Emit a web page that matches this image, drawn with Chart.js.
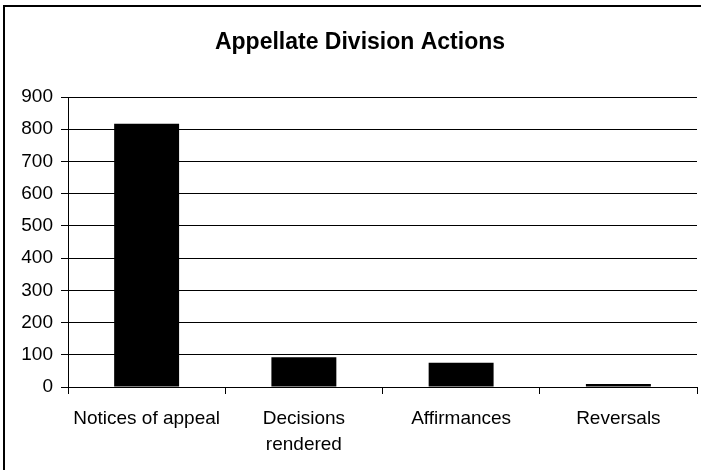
<!DOCTYPE html>
<html>
<head>
<meta charset="utf-8">
<script src="https://cdn.jsdelivr.net/npm/chart.js@4"></script>
<style>
  html, body { margin: 0; padding: 0; background: #fff; }
  #wrap { width: 701px; height: 470px; position: relative; }
</style>
</head>
<body>
<div id="wrap"><canvas id="actionsChart" width="701" height="470"></canvas></div>
<script>
var categories = [["Notices of appeal"], ["Decisions", "rendered"], ["Affirmances"], ["Reversals"]];
var actionCounts = [817, 92, 75, 9];
var yTicks = [0, 100, 200, 300, 400, 500, 600, 700, 800, 900];
var chartTitle = "Appellate Division Actions";

// frame + title drawn around the plot, like the spreadsheet chart box
var framePlugin = {
    id: "frame",
    beforeDraw: function (chart) {
        var c = chart.ctx;
        c.save();
        c.fillStyle = "#fff";
        c.fillRect(0, 0, chart.width, chart.height);
        c.strokeStyle = "#000";
        c.lineWidth = 2;
        c.strokeRect(4, 6, 720, 480);
        c.restore();
    },
    afterDraw: function (chart) {
        var c = chart.ctx;
        c.save();
        c.fillStyle = "#000";
        c.font = "bold 23px 'Liberation Sans', Arial, sans-serif";
        c.textAlign = "center";
        c.textBaseline = "middle";
        c.fillText(chartTitle, 360, 43);
        c.restore();
    }
};

document.addEventListener("DOMContentLoaded", function () {
    var ctx = document.getElementById("actionsChart").getContext("2d");
    var actionsChart = new Chart(ctx, {
        type: "bar",
        data: {
            labels: categories,
            datasets: [
                {
                    label: "Actions",
                    data: actionCounts,
                    backgroundColor: "#000",
                    borderWidth: 0,
                    categoryPercentage: 1,
                    barPercentage: 0.413,
                },
            ],
        },
        options: {
            responsive: false,
            animation: false,
            layout: { padding: { top: 97, left: 0, right: 4, bottom: 0 } },
            plugins: {
                legend: { display: false },
                tooltip: { enabled: false },
                title: { display: false },
            },
            scales: {
                x: {
                    afterFit: function (scale) { scale.height = 83; },
                    grid: {
                        offset: true,
                        drawOnChartArea: false,
                        drawTicks: true,
                        tickLength: 7,
                        color: "#000",
                    },
                    border: { color: "#000", width: 1 },
                    ticks: {
                        color: "#000",
                        padding: 12,
                        maxRotation: 0,
                        autoSkip: false,
                        font: { family: "'Liberation Sans', Arial, sans-serif", size: 19, lineHeight: 1.35 },
                    },
                },
                y: {
                    min: 0,
                    max: 900,
                    afterFit: function (scale) { scale.width = 68; },
                    afterBuildTicks: function (scale) {
                        scale.ticks = yTicks.map(function (v) { return { value: v }; });
                    },
                    grid: {
                        color: "#000",
                        lineWidth: 1,
                        drawTicks: true,
                        tickLength: 7,
                    },
                    border: { color: "#000", width: 1 },
                    ticks: {
                        color: "#000",
                        padding: 8,
                        font: { family: "'Liberation Sans', Arial, sans-serif", size: 19 },
                    },
                },
            },
        },
        plugins: [framePlugin],
    });
});
</script>
</body>
</html>
